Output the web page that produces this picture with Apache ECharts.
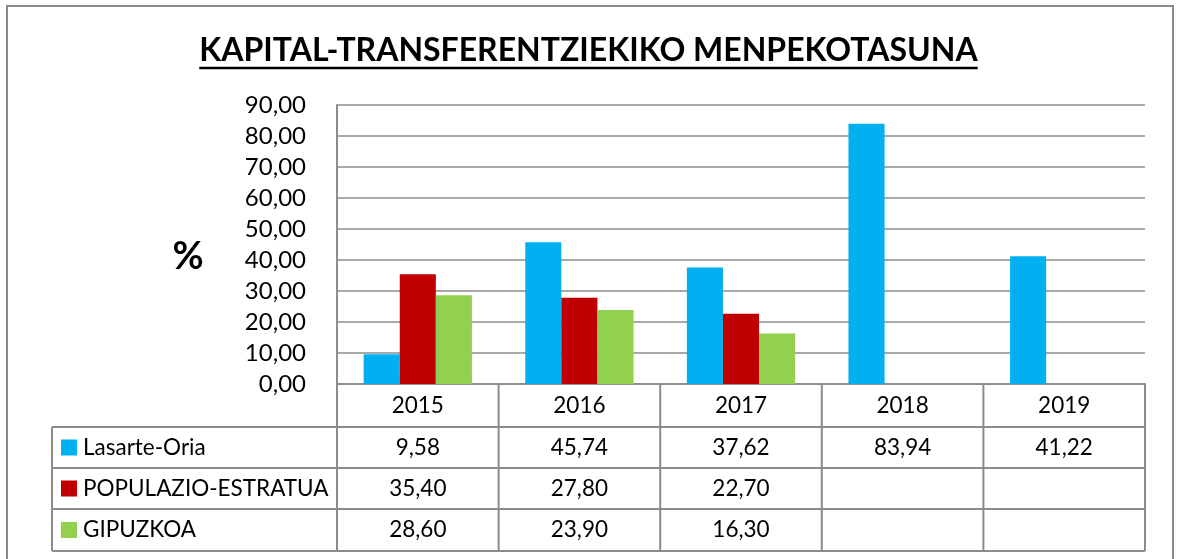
<!DOCTYPE html>
<html>
<head>
<meta charset="utf-8">
<script src="https://cdn.jsdelivr.net/npm/echarts@6/dist/echarts.min.js"></script>
<style>
html, body { margin: 0; padding: 0; background: #fff; }
#chart { width: 1177px; height: 559px; }
</style>
</head>
<body>
<div id="chart"></div>
<script>
// data
var years = ['2015', '2016', '2017', '2018', '2019'];
var seriesNames = ['Lasarte-Oria', 'POPULAZIO-ESTRATUA', 'GIPUZKOA'];
var lasarteOria = [9.58, 45.74, 37.62, 83.94, 41.22];
var populazioEstratua = [35.40, 27.80, 22.70, null, null];
var gipuzkoa = [28.60, 23.90, 16.30, null, null];
var seriesColors = ['#00B0F0', '#C00000', '#92D050'];

var titleText = 'KAPITAL-TRANSFERENTZIEKIKO MENPEKOTASUNA';
var FONT = 'Lato';
var lineColor = '#8c8c8c';

function fmt(v) {
	return (v == null) ? '' : v.toFixed(2).replace('.', ',');
}

var myChart = echarts.init(document.getElementById('chart'));

var gridL = 337, gridR = 32, gridT = 105, gridB = 175;
var plotRight = 1177 - gridR;
var plotBottom = 559 - gridB;

var allData = [lasarteOria, populazioEstratua, gipuzkoa];
var series = [];
for (var s = 0; s < seriesNames.length; s++) {
	series.push({
		name: seriesNames[s],
		type: 'bar',
		data: allData[s],
		barGap: 0,
		barCategoryGap: '33%',
		itemStyle: { color: seriesColors[s] },
		animation: false
	});
}

var option = {
	animation: false,
	title: {
		text: titleText,
		left: 'center',
		top: 30,
		textStyle: { fontFamily: FONT, fontSize: 32, fontWeight: 'bold', color: '#000' }
	},
	grid: { left: gridL, right: gridR, top: gridT, bottom: gridB },
	xAxis: {
		type: 'category',
		data: years,
		axisLine: { show: true, lineStyle: { color: lineColor, width: 2 } },
		axisTick: { show: false },
		axisLabel: { show: false }
	},
	yAxis: {
		type: 'value',
		min: 0, max: 90, interval: 10,
		axisLine: { show: true, lineStyle: { color: lineColor, width: 2 } },
		axisTick: { show: false },
		splitLine: { lineStyle: { color: lineColor, width: 1.5 } },
		axisLabel: {
			margin: 31,
			fontFamily: FONT, fontSize: 24, color: '#000',
			formatter: function (v) { return fmt(v); }
		}
	},
	series: series
};

myChart.setOption(option);

// data table under the plot
var bandW = (plotRight - gridL) / years.length;
var rowLines = [427, 468, 509, 551];
var tableLeft = 52;
var tFont = '22.5px ' + FONT;
var g = [];

// frame round the whole chart
g.push({ type: 'rect', shape: { x: 7, y: 6, width: 1166, height: 600 },
	style: { fill: null, stroke: '#8a8a8a', lineWidth: 2 }, silent: true });

// title underline
var ctx = document.createElement('canvas').getContext('2d');
ctx.font = 'bold 32px ' + FONT;
var tw = ctx.measureText(titleText).width;
g.push({ type: 'line', shape: { x1: 1177 / 2 - tw / 2, y1: 68, x2: 1177 / 2 + tw / 2, y2: 68 },
	style: { stroke: '#000', lineWidth: 2.5 } });

// % label
g.push({ type: 'text', x: 188, y: 257,
	style: { text: '%', font: 'bold 38px ' + FONT, fill: '#000', align: 'center', verticalAlign: 'middle' } });

// vertical lines
for (var c = 0; c <= years.length; c++) {
	var x = gridL + c * bandW;
	g.push({ type: 'line', shape: { x1: x, y1: plotBottom, x2: x, y2: rowLines[3] },
		style: { stroke: lineColor, lineWidth: 2 } });
}
g.push({ type: 'line', shape: { x1: tableLeft, y1: rowLines[0], x2: tableLeft, y2: rowLines[3] },
	style: { stroke: lineColor, lineWidth: 2 } });
// horizontal lines
for (var r = 0; r < rowLines.length; r++) {
	g.push({ type: 'line', shape: { x1: tableLeft, y1: rowLines[r], x2: plotRight, y2: rowLines[r] },
		style: { stroke: lineColor, lineWidth: 2 } });
}

// year header and values
var rowTops = [plotBottom].concat(rowLines);
for (var i = 0; i < years.length; i++) {
	var cx = myChart.convertToPixel({ xAxisIndex: 0 }, years[i]);
	g.push({ type: 'text', x: cx, y: (rowTops[0] + rowTops[1]) / 2,
		style: { text: years[i], font: tFont, fill: '#000', align: 'center', verticalAlign: 'middle' } });
	for (var s2 = 0; s2 < allData.length; s2++) {
		g.push({ type: 'text', x: cx, y: (rowTops[s2 + 1] + rowTops[s2 + 2]) / 2,
			style: { text: fmt(allData[s2][i]), font: tFont, fill: '#000', align: 'center', verticalAlign: 'middle' } });
	}
}
// legend keys + names
for (var k = 0; k < seriesNames.length; k++) {
	var cy = (rowTops[k + 1] + rowTops[k + 2]) / 2;
	g.push({ type: 'rect', shape: { x: 61, y: cy - 8, width: 16, height: 16 }, style: { fill: seriesColors[k] } });
	g.push({ type: 'text', x: 83, y: cy,
		style: { text: seriesNames[k], font: tFont, fill: '#000', align: 'left', verticalAlign: 'middle' } });
}

myChart.setOption({ graphic: g });
</script>
</body>
</html>
